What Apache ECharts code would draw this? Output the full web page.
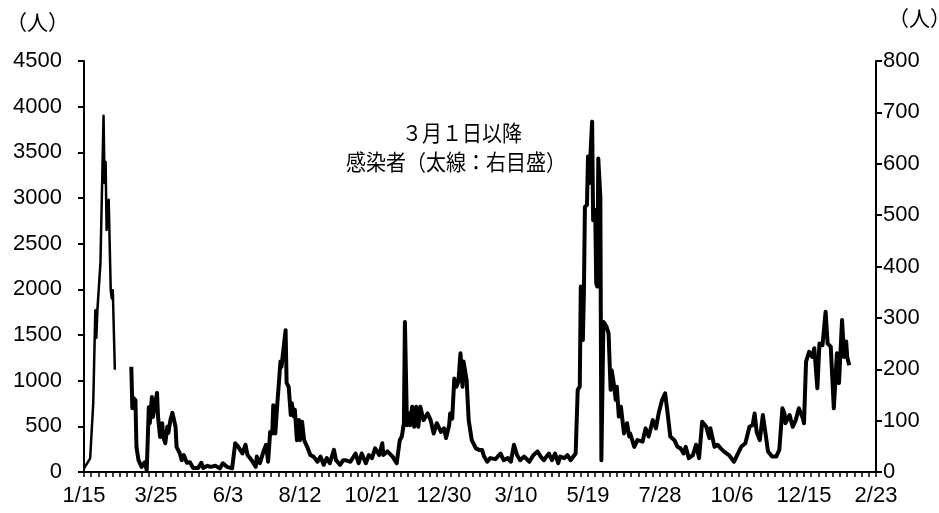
<!DOCTYPE html>
<html><head><meta charset="utf-8">
<script src="https://cdn.jsdelivr.net/npm/echarts@6/dist/echarts.min.js"></script>
<style>html,body{margin:0;padding:0;background:#fff}#c{width:939px;height:513px}</style>
</head><body><div id="c"></div>
<script>
// ---- data ----
const startDate = '2020-01-15';
const endDate = '2022-02-23';
const xTickStepDays = 70;

// thin line (left axis): until mid-Feb 2020
const thinDates = ['2020-01-15','2020-01-21','2020-01-24','2020-01-26','2020-01-27','2020-01-28','2020-01-31','2020-02-03','2020-02-04','2020-02-05','2020-02-06','2020-02-08','2020-02-10','2020-02-11','2020-02-12','2020-02-14'];
const thinValues = [40,150,760,1770,1470,1770,2290,3900,3165,3395,2650,2980,1990,1900,1990,1120];

// thick line (right axis): from 1 March 2020
const thickDates = [
'2020-03-01','2020-03-02','2020-03-03','2020-03-05','2020-03-06','2020-03-08','2020-03-11','2020-03-14','2020-03-16','2020-03-18',
'2020-03-19','2020-03-21','2020-03-22','2020-03-26','2020-03-27','2020-03-29','2020-03-31','2020-04-01','2020-04-03','2020-04-05',
'2020-04-06','2020-04-08','2020-04-10','2020-04-13','2020-04-14','2020-04-17','2020-04-19','2020-04-21','2020-04-24','2020-04-27',
'2020-04-30','2020-05-05','2020-05-08','2020-05-10','2020-05-14','2020-05-17','2020-05-22','2020-05-26','2020-05-29','2020-06-02',
'2020-06-07','2020-06-10','2020-06-13','2020-06-17','2020-06-20','2020-06-22','2020-06-26','2020-06-30','2020-07-01','2020-07-04',
'2020-07-08','2020-07-10','2020-07-12','2020-07-14','2020-07-16','2020-07-17','2020-07-19','2020-07-21','2020-07-24','2020-07-25',
'2020-07-29','2020-07-30','2020-08-01','2020-08-03','2020-08-04','2020-08-06','2020-08-07','2020-08-09','2020-08-11','2020-08-12',
'2020-08-14','2020-08-16','2020-08-19','2020-08-22','2020-08-25','2020-08-29','2020-09-01','2020-09-04','2020-09-07','2020-09-10',
'2020-09-14','2020-09-16','2020-09-20','2020-09-23','2020-09-25','2020-09-30','2020-10-05','2020-10-08','2020-10-11','2020-10-15',
'2020-10-18','2020-10-21','2020-10-24','2020-10-28','2020-10-31','2020-11-01','2020-11-05','2020-11-10','2020-11-14','2020-11-17',
'2020-11-19','2020-11-21','2020-11-22','2020-11-24','2020-11-26','2020-11-27','2020-11-29','2020-12-01','2020-12-03','2020-12-05',
'2020-12-07','2020-12-10','2020-12-14','2020-12-17','2020-12-20','2020-12-23','2020-12-27','2020-12-30','2021-01-01','2021-01-04',
'2021-01-05','2021-01-07','2021-01-09','2021-01-11','2021-01-13','2021-01-15','2021-01-17','2021-01-18','2021-01-21','2021-01-23',
'2021-01-26','2021-01-30','2021-02-02','2021-02-05','2021-02-07','2021-02-10','2021-02-13','2021-02-18','2021-02-23','2021-02-26',
'2021-03-02','2021-03-05','2021-03-08','2021-03-11','2021-03-14','2021-03-18','2021-03-23','2021-03-27','2021-03-31','2021-04-03',
'2021-04-06','2021-04-11','2021-04-14','2021-04-17','2021-04-20','2021-04-22','2021-04-26','2021-04-29','2021-05-02','2021-05-07',
'2021-05-09','2021-05-11','2021-05-12','2021-05-14','2021-05-15','2021-05-16','2021-05-18','2021-05-19','2021-05-20','2021-05-23',
'2021-05-24','2021-05-26','2021-05-27','2021-05-28','2021-05-29','2021-05-31','2021-06-01','2021-06-03','2021-06-06','2021-06-08',
'2021-06-10','2021-06-11','2021-06-13','2021-06-15','2021-06-16','2021-06-18','2021-06-20','2021-06-23','2021-06-26','2021-06-28',
'2021-06-29','2021-07-03','2021-07-06','2021-07-11','2021-07-14','2021-07-17','2021-07-21','2021-07-24','2021-07-27','2021-07-30',
'2021-08-02','2021-08-04','2021-08-07','2021-08-11','2021-08-14','2021-08-17','2021-08-20','2021-08-22','2021-08-25','2021-08-29',
'2021-09-01','2021-09-04','2021-09-07','2021-09-11','2021-09-14','2021-09-15','2021-09-19','2021-09-22','2021-09-25','2021-09-28',
'2021-10-03','2021-10-08','2021-10-11','2021-10-15','2021-10-19','2021-10-23','2021-10-26','2021-10-28','2021-10-30','2021-11-02',
'2021-11-05','2021-11-08','2021-11-10','2021-11-14','2021-11-18','2021-11-21','2021-11-24','2021-11-26','2021-11-27','2021-12-01',
'2021-12-04','2021-12-07','2021-12-10','2021-12-14','2021-12-15','2021-12-17','2021-12-20','2021-12-23','2021-12-25','2021-12-28',
'2021-12-30','2022-01-02','2022-01-05','2022-01-07','2022-01-10','2022-01-13','2022-01-16','2022-01-18','2022-01-21','2022-01-23',
'2022-01-25','2022-01-26','2022-01-28'];
const thickValues = [
205,124,144,140,49,23,10,19,4,126,
95,146,107,154,107,68,95,68,56,88,
76,101,115,88,49,37,23,33,18,19,
8,8,18,8,12,10,12,7,17,10,
7,56,49,36,53,33,23,10,30,17,
43,53,20,78,75,130,75,134,215,205,
276,173,166,111,134,108,121,62,101,62,
98,62,49,33,30,20,30,14,27,17,
43,23,14,23,23,20,36,17,36,17,
33,27,46,33,56,33,40,30,17,62,
69,95,292,91,114,91,127,88,127,88,
127,101,114,101,75,95,78,85,66,91,
114,104,182,166,176,231,166,215,179,101,
62,46,43,43,30,20,27,25,36,23,
27,20,53,33,23,30,20,33,40,30,
23,36,23,36,17,30,27,33,23,36,
160,166,361,257,348,516,520,614,562,682,
490,510,367,361,610,536,23,292,283,270,
160,198,173,140,166,108,127,75,95,69,
75,49,62,59,85,69,101,85,117,140,
153,121,69,62,49,46,36,49,27,33,
53,27,98,88,66,85,49,53,46,40,
33,20,33,49,56,88,91,114,78,62,
111,69,40,30,30,43,124,114,95,111,
88,101,124,104,95,215,234,224,241,163,
250,247,312,250,244,124,231,173,296,224,
254,224,208];

const annotationLines = ['３月１日以降', '感染者（太線：右目盛）'];
const unitLabel = '（人）';

// ---- helpers ----
const DAY = 864e5;
const t0 = Date.parse(startDate);
const dayOf = s => (Date.parse(s) - t0) / DAY;
const pairs = (ds, vs) => ds.map((d, i) => [dayOf(d), vs[i]]);
const fmtDay = v => { const d = new Date(t0 + Math.round(v) * DAY); return (d.getUTCMonth() + 1) + '/' + d.getUTCDate(); };

const FONT = 'Liberation Sans, Arial, sans-serif';
const CJK = 'Noto Sans CJK JP, sans-serif';
const axisLine = { show: true, lineStyle: { color: '#000', width: 2 } };

const chart = echarts.init(document.getElementById('c'), null, { renderer: 'canvas' });
chart.setOption({
  animation: false,
  backgroundColor: '#fff',
  grid: { left: 84, right: 63, top: 61, bottom: 41, containLabel: false },
  xAxis: {
    type: 'value', min: 0, max: dayOf(endDate), interval: xTickStepDays,
    axisLine: axisLine,
    axisTick: { show: true, inside: false, length: 5, lineStyle: { color: '#000', width: 1.5 } },
    minorTick: { show: true, splitNumber: 10, length: 5, lineStyle: { color: '#000', width: 1.5 } },
    splitLine: { show: false },
    axisLabel: { formatter: fmtDay, color: '#000', fontFamily: FONT, fontSize: 22, margin: 13 }
  },
  yAxis: [
    { type: 'value', min: 0, max: 4500, interval: 500, position: 'left',
      axisLine: axisLine,
      axisTick: { show: true, length: 6, lineStyle: { color: '#000', width: 2 } },
      splitLine: { show: false },
      axisLabel: { formatter: v => String(v), color: '#000', fontFamily: FONT, fontSize: 22, margin: 22 } },
    { type: 'value', min: 0, max: 800, interval: 100, position: 'right',
      axisLine: axisLine,
      axisTick: { show: true, length: 6, lineStyle: { color: '#000', width: 2 } },
      splitLine: { show: false },
      axisLabel: { formatter: v => String(v), color: '#000', fontFamily: FONT, fontSize: 22, margin: 7 } }
  ],
  graphic: [
    { type: 'text', left: 6, top: 12, style: { text: unitLabel, font: '21px ' + CJK, fill: '#000' } },
    { type: 'text', right: -12, top: 8, style: { text: unitLabel, font: '21px ' + CJK, fill: '#000' } },
    { type: 'text', x: 462, y: 122, scaleY: 1.1, style: { text: annotationLines[0], font: '20px ' + CJK, fill: '#000', textAlign: 'center' } },
    { type: 'text', x: 456, y: 151, scaleY: 1.1, style: { text: annotationLines[1], font: '20px ' + CJK, fill: '#000', textAlign: 'center' } }
  ],
  series: [
    { name: 'thin', type: 'line', yAxisIndex: 0, showSymbol: false, silent: true,
      data: pairs(thinDates, thinValues),
      lineStyle: { color: '#000', width: 2.5, join: 'round' } },
    { name: 'thick', type: 'line', yAxisIndex: 1, showSymbol: false, silent: true,
      data: pairs(thickDates, thickValues),
      lineStyle: { color: '#000', width: 4, join: 'round' } }
  ]
});
</script></body></html>
